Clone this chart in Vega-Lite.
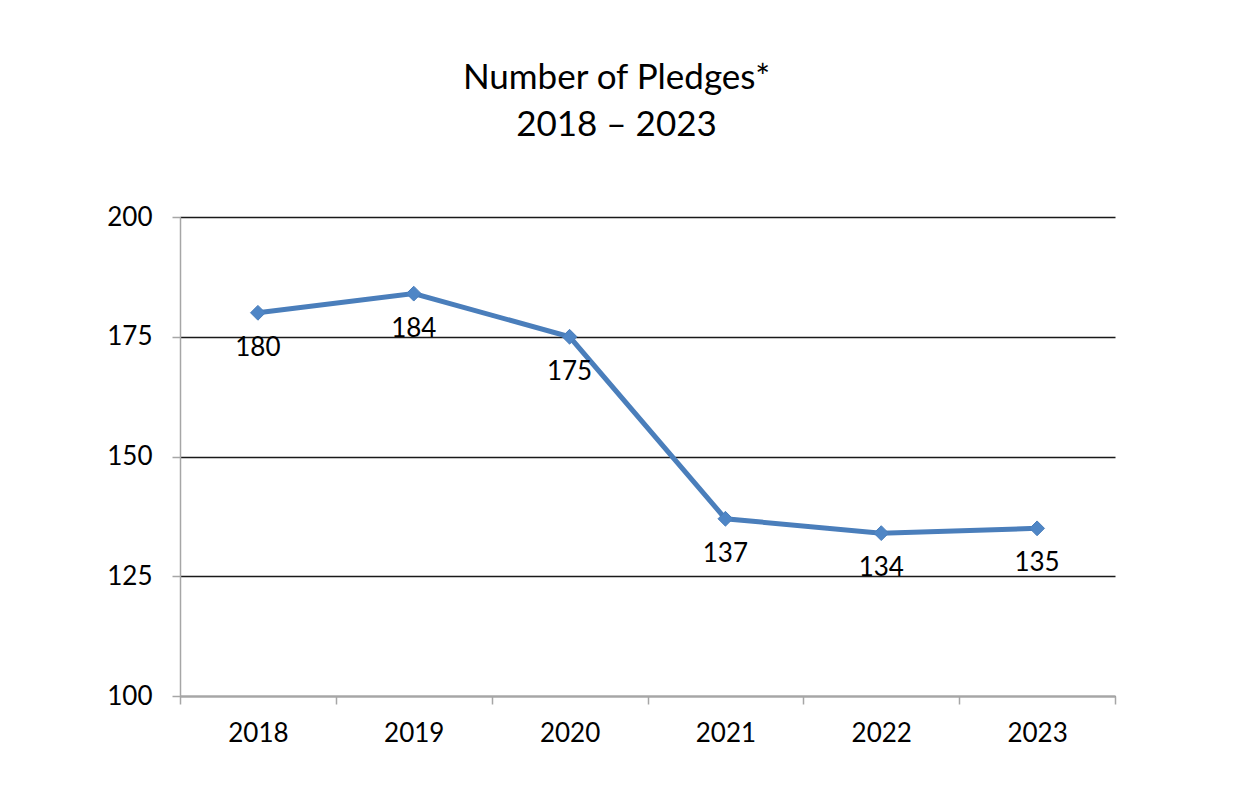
{
  "$schema": "https://vega.github.io/schema/vega-lite/v6.json",
  "autosize": {"type": "none"},
  "width": 935,
  "height": 479,
  "padding": {"left": 180, "top": 217, "right": 122, "bottom": 106},
  "background": "white",
  "config": {
    "font": "Lato",
    "view": {"stroke": null}
  },
  "title": {
    "text": ["Number of Pledges*", "2018 – 2023"],
    "fontSize": 35,
    "fontWeight": "normal",
    "color": "#000000",
    "lineHeight": 47,
    "baseline": "alphabetic",
    "offset": 33,
    "anchor": "middle",
    "dx": -31
  },
  "data": {
    "values": [
      {"year": "2018", "pledges": 180},
      {"year": "2019", "pledges": 184},
      {"year": "2020", "pledges": 175},
      {"year": "2021", "pledges": 137},
      {"year": "2022", "pledges": 134},
      {"year": "2023", "pledges": 135}
    ]
  },
  "encoding": {
    "x": {
      "field": "year",
      "type": "ordinal",
      "bandPosition": 0.5,
      "scale": {"type": "band", "paddingInner": 0, "paddingOuter": 0},
      "axis": {
        "title": null,
        "labelAngle": 0,
        "labelFontSize": 26,
        "labelColor": "#000000",
        "labelPadding": 16,
        "tickBand": "extent",
        "tickSize": 8,
        "tickColor": "#a6a6a6",
        "domainColor": "#a6a6a6",
        "domainWidth": 1.5,
        "tickWidth": 1.5,
        "grid": false
      }
    },
    "y": {
      "field": "pledges",
      "type": "quantitative",
      "scale": {"domain": [100, 200], "nice": false, "zero": false},
      "axis": {
        "title": null,
        "values": [100, 125, 150, 175, 200],
        "labelFontSize": 26,
        "labelColor": "#000000",
        "labelPadding": 20,
        "tickSize": 8,
        "tickColor": "#a6a6a6",
        "domainColor": "#a6a6a6",
        "domainWidth": 1.5,
        "tickWidth": 1.5,
        "grid": true,
        "gridColor": "#1a1a1a",
        "gridWidth": 1.3
      }
    }
  },
  "layer": [
    {
      "mark": {"type": "line", "color": "#4a7ebb", "strokeWidth": 5}
    },
    {
      "mark": {"type": "point", "shape": "diamond", "filled": true, "size": 220, "color": "#4f86c6", "opacity": 1, "stroke": "#4a7ebb", "strokeWidth": 1}
    },
    {
      "mark": {"type": "text", "fontSize": 26, "dy": 35, "baseline": "middle", "color": "#000000"},
      "encoding": {"text": {"field": "pledges", "type": "quantitative"}}
    }
  ]
}
